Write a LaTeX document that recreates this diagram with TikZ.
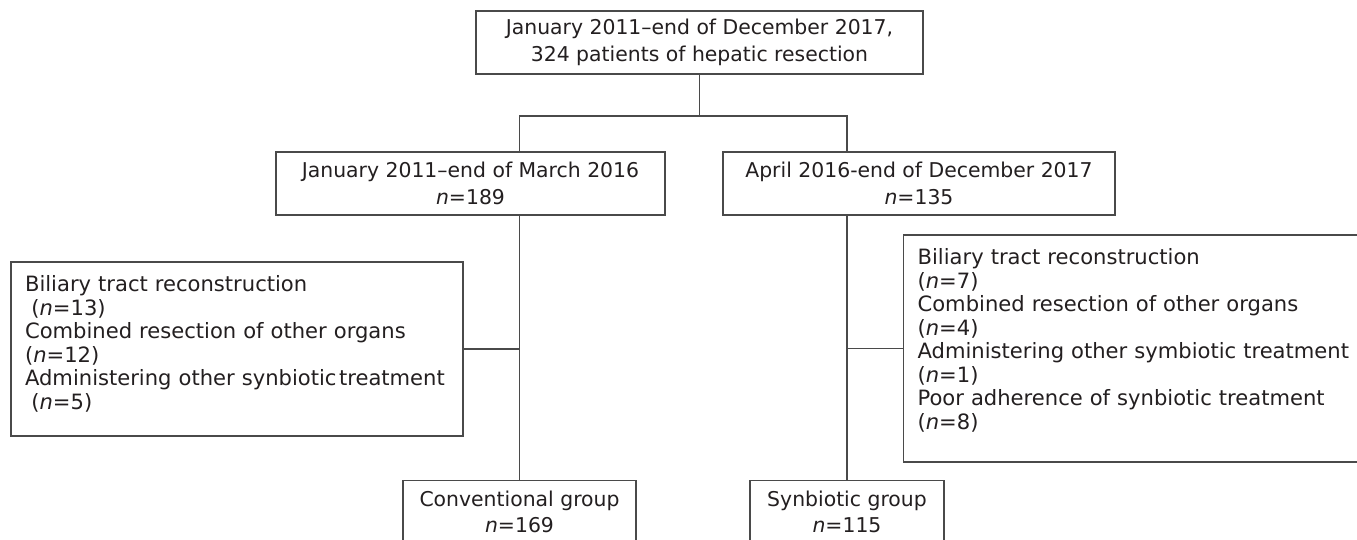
\documentclass[tikz,border=0pt]{standalone}
\usepackage{fontspec}
\setmainfont{DejaVu Sans}
\usepackage{xcolor}
\usetikzlibrary{positioning,calc}
\definecolor{FlowLine}{HTML}{4A4A4A}
\definecolor{FlowText}{HTML}{231F20}
\newcommand{\nval}[1]{\textit{n}=#1}

\begin{document}
\begin{tikzpicture}[
    x=0.02cm, y=-0.02cm,
    stage/.style={
      draw=FlowLine,
      fill=white,
      line width=0.7pt,
      minimum height=1.26cm,
      align=center,
      inner sep=0pt,
      text=FlowText,
      font=\fontsize{11.6}{15}\selectfont
    },
    exclude/.style={
      draw=FlowLine,
      fill=white,
      line width=0.7pt,
      align=left,
      inner xsep=0.28cm,
      inner ysep=0pt,
      text=FlowText,
      font=\fontsize{12}{13.4}\selectfont
    },
    link/.style={
      draw=FlowLine,
      line width=0.7pt
    }
  ]
    \useasboundingbox (0,0) rectangle (1357,540);

    \node[stage, minimum width=8.94cm] (cohort) at (699.5,42.5) {January 2011--end of December 2017,\\324 patients of hepatic resection};
    \node[stage, minimum width=7.78cm] (early) at (470.5,183.5) {January 2011--end of March 2016\\\nval{189}};
    \node[stage, minimum width=7.84cm] (late) at (919,183.5) {April 2016-end of December 2017\\\nval{135}};

    \node[exclude, minimum height=3.48cm, text width=8.48cm] (exclearly) at (237,349) {Biliary tract reconstruction\\
      \hspace*{0.3em}(\nval{13})\\
      Combined resection of other organs\\
      (\nval{12})\\
      \mbox{Administering other synbiotic\hspace{0.12em}treatment}\\
      \hspace*{0.3em}(\nval{5})\par\vspace*{0.2cm}};
    \node[exclude, minimum height=4.54cm, text width=8.84cm, anchor=west] (exclate) at (903,348.5) {Biliary tract reconstruction\\
      (\nval{7})\\
      Combined resection of other organs\\
      (\nval{4})\\
      Administering other symbiotic treatment\\
      (\nval{1})\\
      Poor adherence of synbiotic treatment\\
      (\nval{8})\par\vspace*{0.32cm}};

    \node[stage, minimum width=4.66cm, anchor=north] (convgroup) at (519.5,480) {Conventional group\\\nval{169}};
    \node[stage, minimum width=3.88cm, anchor=north] (synbgroup) at (847,480) {Synbiotic group\\\nval{115}};

    \coordinate (split) at (699.5,116);

    \draw[link] (cohort.south) -- (split);
    \draw[link] (convgroup.north |- early.north) |- (split) -| (synbgroup.north |- late.north);
    \draw[link] (convgroup.north |- early.south) -- (convgroup.north);
    \draw[link] (synbgroup.north |- late.south) -- (synbgroup.north);
    \draw[link] (exclearly.east) -- (exclearly.east -| convgroup.north);
    \draw[link] (exclate.west) -- (exclate.west -| synbgroup.north);
  \end{tikzpicture}
\end{document}
